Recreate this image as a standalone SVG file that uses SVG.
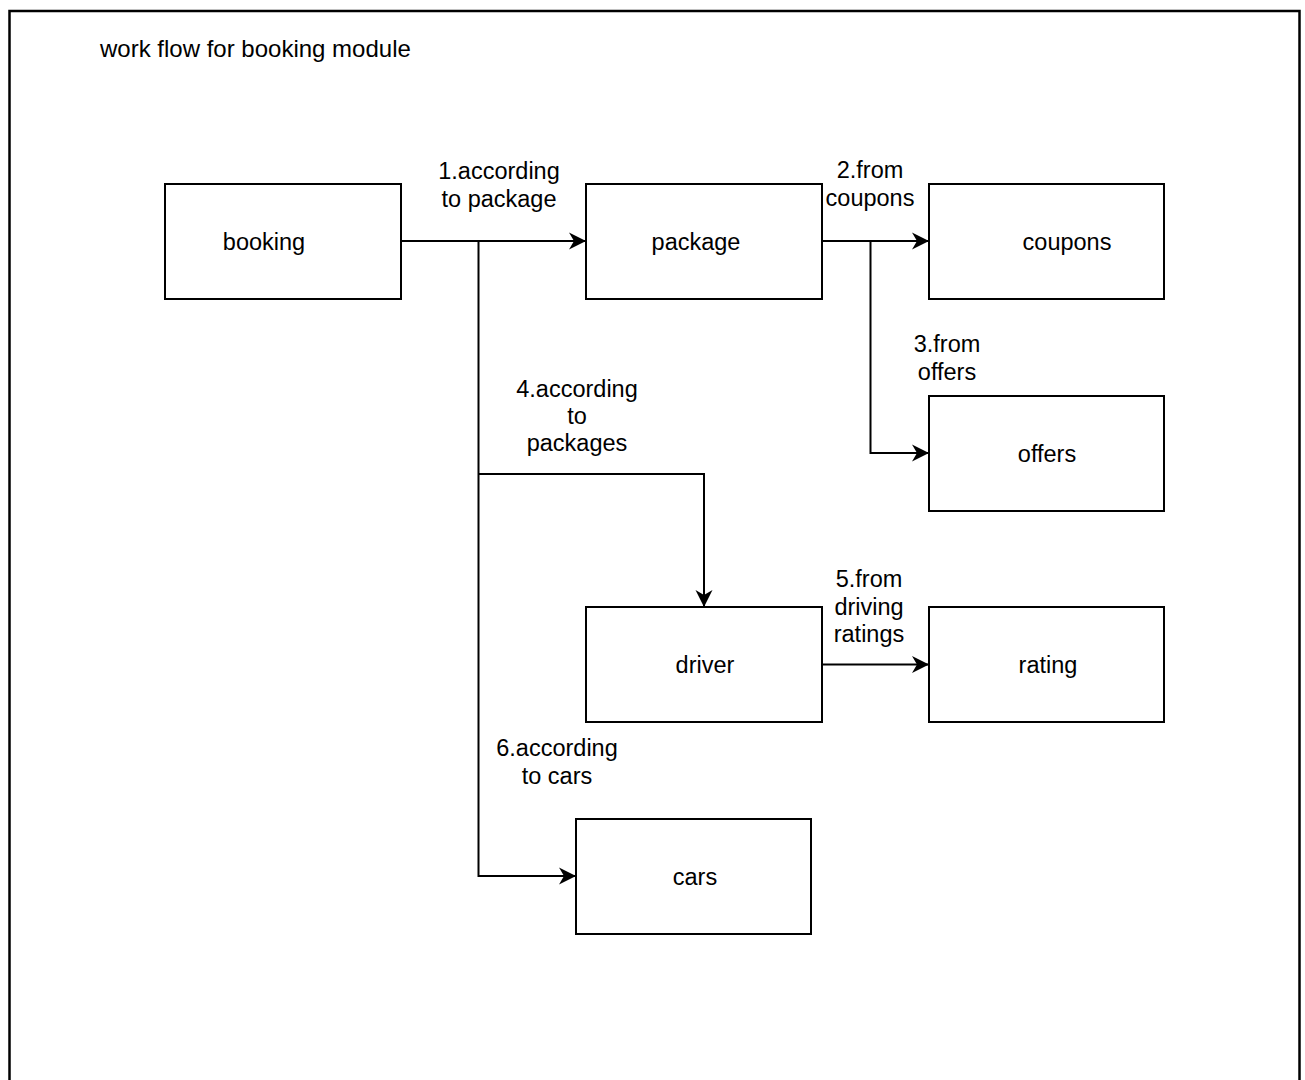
<svg xmlns="http://www.w3.org/2000/svg" width="1305" height="1080" viewBox="0 0 1305 1080">
  <style>
    .frame { fill: #ffffff; stroke: #000000; stroke-width: 2.5; }
    .box { fill: #ffffff; stroke: #000000; stroke-width: 2; }
    .edge { fill: none; stroke: #000000; stroke-width: 2; }
    .arrowed { marker-end: url(#arrow); }
    text { font-family: "Liberation Sans", Arial, sans-serif; font-size: 23.5px; fill: #000000; }
    .title { font-size: 24px; }
    .c { text-anchor: middle; }
  </style>
  <defs>
    <marker id="arrow" markerUnits="userSpaceOnUse" markerWidth="20" markerHeight="20" viewBox="-18 -10 20 20" refX="0" refY="0" orient="auto">
      <path d="M0,0 L-17,-8.5 L-12,0 L-17,8.5 Z" fill="#000000"/>
    </marker>
  </defs>

  <rect x="0" y="0" width="1305" height="1080" fill="#ffffff"/>
  <!-- page frame, open at the bottom -->
  <rect class="frame" x="9.5" y="11" width="1290" height="1100"/>
  <text class="title" x="100" y="57">work flow for booking module</text>

  <g id="connectors">
    <path class="edge arrowed" d="M401,241 H586"/>
    <path class="edge arrowed" d="M478.5,241 V876 H576"/>
    <path class="edge arrowed" d="M478.5,474 H704 V607"/>
    <path class="edge arrowed" d="M822,241 H929"/>
    <path class="edge arrowed" d="M870.5,241 V453 H929"/>
    <path class="edge arrowed" d="M822,664.5 H929"/>
    <text class="c" x="499" y="179">1.according</text>
    <text class="c" x="499" y="207">to package</text>
    <text class="c" x="870" y="178">2.from</text>
    <text class="c" x="870" y="206">coupons</text>
    <text class="c" x="947" y="352">3.from</text>
    <text class="c" x="947" y="380">offers</text>
    <text class="c" x="577" y="397">4.according</text>
    <text class="c" x="577" y="424">to</text>
    <text class="c" x="577" y="451">packages</text>
    <text class="c" x="869" y="587">5.from</text>
    <text class="c" x="869" y="615">driving</text>
    <text class="c" x="869" y="642">ratings</text>
    <text class="c" x="557" y="756">6.according</text>
    <text class="c" x="557" y="784">to cars</text>
  </g>

  <g id="booking">
    <rect class="box" x="165" y="184" width="236" height="115"/>
    <text class="c" x="264" y="250">booking</text>
  </g>
  <g id="package">
    <rect class="box" x="586" y="184" width="236" height="115"/>
    <text class="c" x="696" y="250">package</text>
  </g>
  <g id="coupons">
    <rect class="box" x="929" y="184" width="235" height="115"/>
    <text class="c" x="1067" y="250">coupons</text>
  </g>
  <g id="offers">
    <rect class="box" x="929" y="396" width="235" height="115"/>
    <text class="c" x="1047" y="462">offers</text>
  </g>
  <g id="driver">
    <rect class="box" x="586" y="607" width="236" height="115"/>
    <text class="c" x="705" y="673">driver</text>
  </g>
  <g id="rating">
    <rect class="box" x="929" y="607" width="235" height="115"/>
    <text class="c" x="1048" y="673">rating</text>
  </g>
  <g id="cars">
    <rect class="box" x="576" y="819" width="235" height="115"/>
    <text class="c" x="695" y="885">cars</text>
  </g>
</svg>
